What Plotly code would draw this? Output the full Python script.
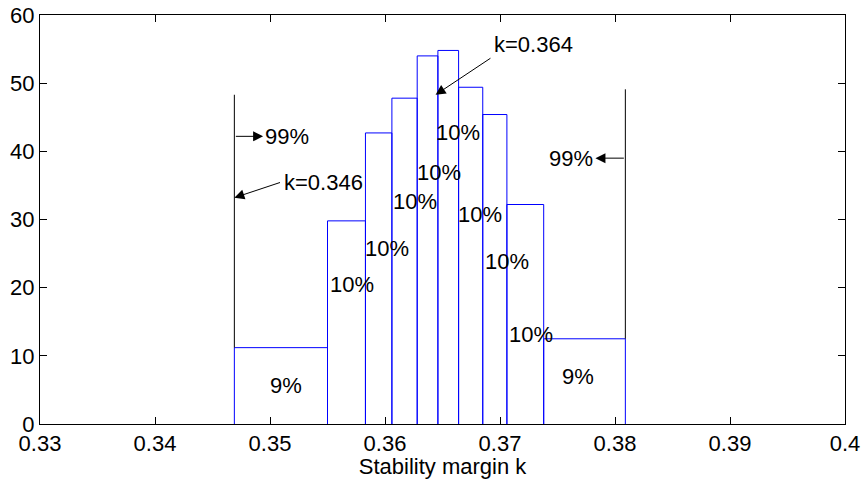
import plotly.graph_objects as go

# Histogram bin edges and heights
bin_edges = [0.3469, 0.3550, 0.3583, 0.3606, 0.3628, 0.3646, 0.3664, 0.3685, 0.3706, 0.3738, 0.3809]
counts = [11.2, 29.8, 42.7, 47.8, 54.0, 54.8, 49.4, 45.4, 32.2, 12.5]

# 99% boundary lines (x, top value); they start at the outer bar heights
boundary_x = [0.3469, 0.3809]
boundary_top = [48.3, 49.1]

# Percentage labels
pct_text = ["9%", "10%", "10%", "10%", "10%", "10%", "10%", "10%", "10%", "9%"]
pct_x = [0.3514, 0.3550, 0.3581, 0.3605, 0.3626, 0.3643, 0.3662, 0.3685, 0.3706, 0.3768]
pct_y = [5.7, 20.5, 25.8, 32.6, 36.9, 42.8, 30.8, 23.8, 13.1, 6.9]
pct_anchor = ["center", "left", "left", "left", "left", "left", "left", "left", "left", "center"]

# Annotated arrows: text, text position, arrow tail, arrow tip
arrow_text = ["99%", "99%", "k=0.346", "k=0.364"]
arrow_text_x = [0.3494, 0.3783, 0.3510, 0.3693]
arrow_text_y = [42.2, 39.0, 35.4, 55.6]
arrow_text_anchor = ["left", "right", "left", "left"]
arrow_tail_x = [0.3469, 0.3809, 0.3510, 0.3693]
arrow_tail_y = [42.2, 39.0, 35.5, 53.8]
arrow_tip_x = [0.3494, 0.3783, 0.3469, 0.3644]
arrow_tip_y = [42.2, 39.0, 33.2, 48.3]

x_ticks = [0.33, 0.34, 0.35, 0.36, 0.37, 0.38, 0.39, 0.40]
x_ticktext = ["0.33", "0.34", "0.35", "0.36", "0.37", "0.38", "0.39", "0.4"]
y_ticks = [0, 10, 20, 30, 40, 50, 60]

FONT = "Liberation Sans, Arial, Helvetica, sans-serif"
FS = 22

fig = go.Figure()

# histogram bars drawn as outlined rectangles (one per bin)
for i, h in enumerate(counts):
    left, right = bin_edges[i], bin_edges[i + 1]
    fig.add_trace(go.Scatter(x=[left, left, right, right], y=[0, h, h, 0],
                             mode="lines", line=dict(color="#0000ff", width=1),
                             hoverinfo="skip", showlegend=False))

# black boundary lines above the outer bars
outer_heights = [counts[0], counts[-1]]
for bx, bt, bh in zip(boundary_x, boundary_top, outer_heights):
    fig.add_trace(go.Scatter(x=[bx, bx], y=[bh, bt], mode="lines",
                             line=dict(color="black", width=1), hoverinfo="skip",
                             showlegend=False))

annotations = []
for t, x, y, a in zip(pct_text, pct_x, pct_y, pct_anchor):
    annotations.append(dict(x=x, y=y, xref="x", yref="y", text=t, showarrow=False,
                            xanchor=a, yanchor="middle",
                            font=dict(family=FONT, size=FS, color="black")))

for t, tx, ty, ta, ax, ay, px, py in zip(arrow_text, arrow_text_x, arrow_text_y, arrow_text_anchor,
                                         arrow_tail_x, arrow_tail_y, arrow_tip_x, arrow_tip_y):
    annotations.append(dict(x=tx, y=ty, xref="x", yref="y", text=t, showarrow=False,
                            xanchor=ta, yanchor="middle",
                            font=dict(family=FONT, size=FS, color="black")))
    annotations.append(dict(x=px, y=py, ax=ax, ay=ay, xref="x", yref="y",
                            axref="x", ayref="y", text="", showarrow=True,
                            arrowhead=2, arrowsize=2, arrowwidth=1, arrowcolor="black",
                            standoff=0, startstandoff=0))

fig.update_layout(
    width=862, height=479,
    margin=dict(l=40, r=17, t=15, b=55),
    plot_bgcolor="white", paper_bgcolor="white",
    font=dict(family=FONT, size=FS, color="black"),
    annotations=annotations,
    xaxis=dict(range=[0.33, 0.40], tickvals=x_ticks, ticktext=x_ticktext,
               ticks="inside", ticklen=7, tickcolor="black", tickwidth=1,
               showline=True, linecolor="black", linewidth=1, mirror="ticks",
               showgrid=False, zeroline=False, automargin=False,
               title=dict(text="Stability margin k", standoff=2,
                          font=dict(family=FONT, size=FS, color="black")),
               tickfont=dict(family=FONT, size=FS, color="black")),
    yaxis=dict(range=[0, 60], tickvals=y_ticks,
               ticks="inside", ticklen=7, tickcolor="black", tickwidth=1,
               showline=True, linecolor="black", linewidth=1, mirror="ticks",
               showgrid=False, zeroline=False, automargin=False,
               tickfont=dict(family=FONT, size=FS, color="black")),
)

fig.write_html("out.html")
